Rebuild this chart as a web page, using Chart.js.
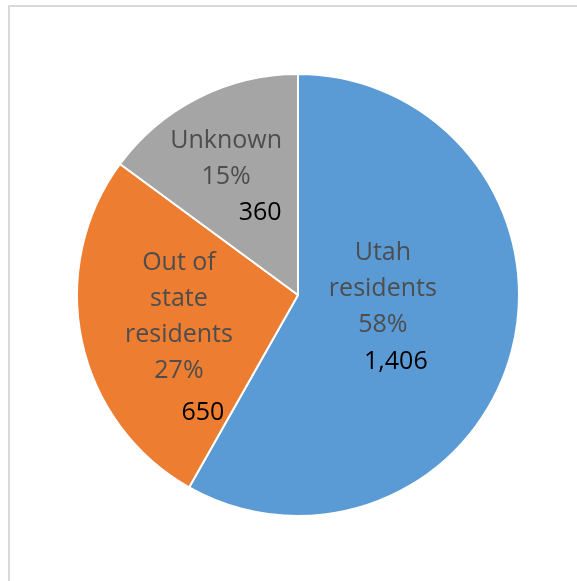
<!DOCTYPE html>
<html>
<head>
<meta charset="utf-8">
<script src="https://cdn.jsdelivr.net/npm/chart.js@4.4.1/dist/chart.umd.min.js"></script>
<style>
  html, body { margin: 0; padding: 0; background: #fff; }
  #wrap { position: relative; width: 577px; height: 581px; overflow: hidden; }
  #frame { position: absolute; left: 8px; top: 5px; width: 600px; height: 600px; border: 2px solid #d9d9d9; box-sizing: border-box; }
  #pie { position: absolute; left: 0; top: 0; }
</style>
</head>
<body>
<div id="wrap">
  <div id="frame"></div>
  <canvas id="pie" width="577" height="581"></canvas>
</div>
<script>
const categories = ['Utah residents', 'Out of state residents', 'Unknown'];
const categoryLines = [['Utah', 'residents'], ['Out of', 'state', 'residents'], ['Unknown']];
const counts = [1406, 650, 360];
const sliceColors = ['#5B9BD5', '#ED7D31', '#A5A5A5'];

// label placement relative to each slice's center point
const nameOffsets = [[-22, -70], [-11, -55], [-22, -56]];
const valueOffsets = [[-9, 39], [13, 95], [12, 16]];

const sliceLabels = {
    id: 'sliceLabels',
    afterDatasetsDraw(chart) {
        const ctx = chart.ctx;
        const meta = chart.getDatasetMeta(0);
        const values = chart.data.datasets[0].data;
        const total = values.reduce((a, b) => a + b, 0);
        ctx.save();
        ctx.font = '25px "Open Sans"';
        ctx.textAlign = 'center';
        ctx.textBaseline = 'middle';
        meta.data.forEach((arc, i) => {
            const p = arc.tooltipPosition();
            const lines = categoryLines[i].concat([Math.round(values[i] / total * 100) + '%']);
            ctx.fillStyle = '#4d4d4d';
            lines.forEach((txt, j) => {
                ctx.fillText(txt, p.x + nameOffsets[i][0], p.y + nameOffsets[i][1] + j * 36);
            });
            ctx.fillStyle = '#000000';
            ctx.fillText(values[i].toLocaleString('en-US'), p.x + valueOffsets[i][0], p.y + valueOffsets[i][1]);
        });
        ctx.restore();
    }
};

const ctx = document.getElementById('pie').getContext('2d');
const myChart = new Chart(ctx, {
    type: 'pie',
    data: {
        labels: categories,
        datasets: [{
            data: counts,
            backgroundColor: sliceColors,
            borderColor: '#ffffff',
            borderWidth: 2
        }]
    },
    options: {
        responsive: false,
        animation: false,
        layout: {
            padding: { left: 76, right: 57, top: 73, bottom: 64 }
        },
        plugins: {
            legend: { display: false },
            tooltip: { enabled: false }
        }
    },
    plugins: [sliceLabels]
});
</script>
</body>
</html>
